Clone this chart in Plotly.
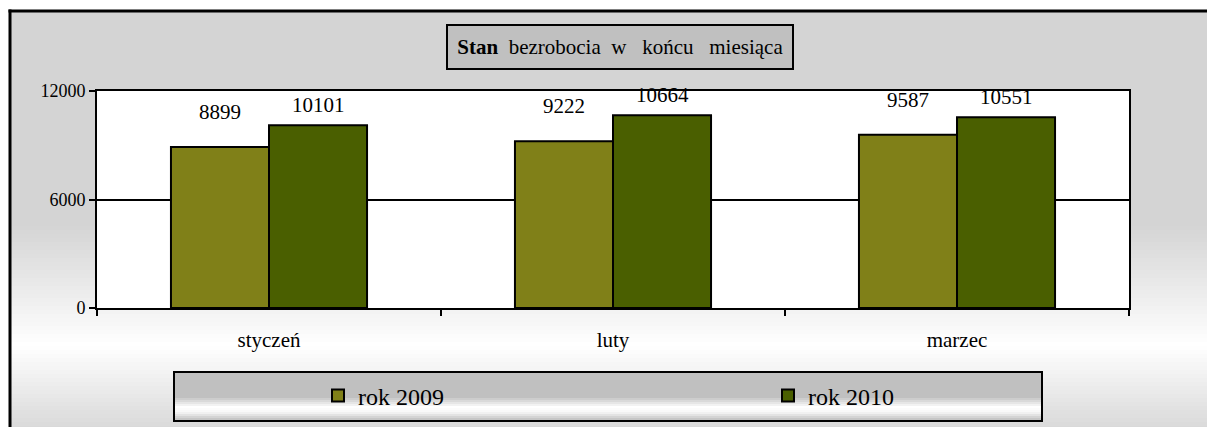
import plotly.graph_objects as go

# --- data ---
months = ["styczeń", "luty", "marzec"]
series_names = ["rok 2009", "rok 2010"]
values_2009 = [8899, 9222, 9587]
values_2010 = [10101, 10664, 10551]
y_ticks = [0, 6000, 12000]

title_text = "<b>Stan</b>\u00a0\u00a0bezrobocia\u00a0\u00a0w\u00a0\u00a0\u00a0końcu\u00a0\u00a0\u00a0miesiąca"

# --- geometry of the page (pixels, as seen in the window) ---
OFF = 8  # page body margin (on every side)
FIG_W, FIG_H = 1215 - 2 * OFF, 435 - 2 * OFF
L, R, T, B = 97 - OFF, 1129 - OFF, 91 - OFF, 308 - OFF
W, H = R - L, B - T

FONT = "Liberation Serif, Times New Roman, Times, DejaVu Serif, serif"
C2009 = "#808018"
C2010 = "#4a5f00"


def px_x(x):
    # x given in window pixels
    return (x - OFF - L) / W


def px_y(y):
    return (B - (y - OFF)) / H


def lerp_color(stops, y):
    # stops: list of (pixel_y, grey_level)
    for (y0, g0), (y1, g1) in zip(stops, stops[1:]):
        if y0 <= y <= y1:
            t = 0 if y1 == y0 else (y - y0) / (y1 - y0)
            g = round(g0 + (g1 - g0) * t)
            return f"rgb({g},{g},{g})"
    g = stops[-1][1]
    return f"rgb({g},{g},{g})"


def gradient_strips(x0, x1, y0, y1, stops, step=3):
    shapes = []
    y = y0
    while y < y1:
        yb = min(y + step, y1)
        col = lerp_color(stops, (y + yb) / 2)
        shapes.append(dict(
            type="rect", xref="paper", yref="paper", layer="below",
            x0=px_x(x0), x1=px_x(x1), y0=px_y(y), y1=px_y(yb + 0.5),
            fillcolor=col, line=dict(width=0)
        ))
        y = yb
    return shapes


shapes = []

# --- chart background gradient (grey -> white -> grey) ---
bg_stops = [(10, 212), (225, 212), (345, 255), (435, 214)]
shapes += gradient_strips(9, 1216, 10, 436, bg_stops, step=4)

# --- plot area white ---
shapes.append(dict(type="rect", xref="paper", yref="paper", layer="below",
                   x0=0, x1=1, y0=0, y1=1, fillcolor="white", line=dict(width=0)))

# --- outer border (only top and left edges are inside the picture) ---
shapes.append(dict(type="line", xref="paper", yref="paper", layer="below",
                   x0=px_x(8.5), x1=px_x(1216), y0=px_y(11), y1=px_y(11),
                   line=dict(color="black", width=3)))
shapes.append(dict(type="line", xref="paper", yref="paper", layer="below",
                   x0=px_x(10), x1=px_x(10), y0=px_y(9.5), y1=px_y(436),
                   line=dict(color="black", width=3)))

# --- title box ---
shapes.append(dict(type="rect", xref="paper", yref="paper", layer="below",
                   x0=px_x(447), x1=px_x(793), y0=px_y(25), y1=px_y(69),
                   fillcolor="#c0c0c0", line=dict(color="black", width=2)))

# --- legend box (shiny grey) ---
leg_stops = [(372, 192), (397, 192), (407, 255), (412, 248), (421, 184)]
shapes += gradient_strips(174, 1042, 372, 421, leg_stops, step=2)
shapes.append(dict(type="rect", xref="paper", yref="paper", layer="below",
                   x0=px_x(174), x1=px_x(1042), y0=px_y(372), y1=px_y(421),
                   fillcolor="rgba(0,0,0,0)", line=dict(color="black", width=2)))

fig = go.Figure()
fig.add_trace(go.Bar(
    name=series_names[0], x=months, y=values_2009,
    marker=dict(color=C2009, line=dict(color="black", width=2)),
))
fig.add_trace(go.Bar(
    name=series_names[1], x=months, y=values_2010,
    marker=dict(color=C2010, line=dict(color="black", width=2)),
))

# --- value labels above bars ---
annotations = []
for m, v in zip(months, values_2009):
    annotations.append(dict(x=m, y=v, xref="x", yref="y", text=str(v),
                            showarrow=False, xshift=-49, yshift=21, yanchor="bottom",
                            font=dict(family=FONT, size=21, color="black")))
for m, v in zip(months, values_2010):
    annotations.append(dict(x=m, y=v, xref="x", yref="y", text=str(v),
                            showarrow=False, xshift=49, yshift=6, yanchor="bottom",
                            font=dict(family=FONT, size=21, color="black")))

fig.update_layout(
    width=FIG_W, height=FIG_H,
    margin=dict(l=L, r=FIG_W - R, t=T, b=FIG_H - B, autoexpand=False),
    paper_bgcolor="white",
    plot_bgcolor="white",
    font=dict(family=FONT, color="black"),
    barmode="group",
    bargap=0.43,
    bargroupgap=0,
    shapes=shapes,
    annotations=annotations,
    title=dict(text=title_text, x=(620 - OFF) / FIG_W, y=1 - (47 - OFF) / FIG_H,
               xref="container", yref="container",
               xanchor="center", yanchor="middle",
               font=dict(family=FONT, size=21, color="black")),
    legend=dict(
        orientation="h",
        x=px_x(318), y=px_y(396), xanchor="left", yanchor="middle",
        bgcolor="rgba(0,0,0,0)",
        font=dict(family=FONT, size=24, color="black"),
        entrywidth=405, entrywidthmode="pixels",
    ),
    xaxis=dict(
        automargin=False,
        showline=True, mirror=True, linecolor="black", linewidth=2,
        ticks="outside", tickson="boundaries", ticklen=6, tickcolor="black", tickwidth=2,
        ticklabelstandoff=12,
        tickfont=dict(family=FONT, size=21, color="black"),
        showgrid=False,
    ),
    yaxis=dict(
        automargin=False,
        range=[0, 12000], tickvals=y_ticks, ticktext=[str(t) for t in y_ticks],
        showline=True, mirror=True, linecolor="black", linewidth=2,
        ticks="outside", ticklen=6, tickcolor="black", tickwidth=2,
        showgrid=True, gridcolor="black", gridwidth=2,
        zeroline=False,
        tickfont=dict(family=FONT, size=18, color="black"),
    ),
)

fig.write_html("out.html")
